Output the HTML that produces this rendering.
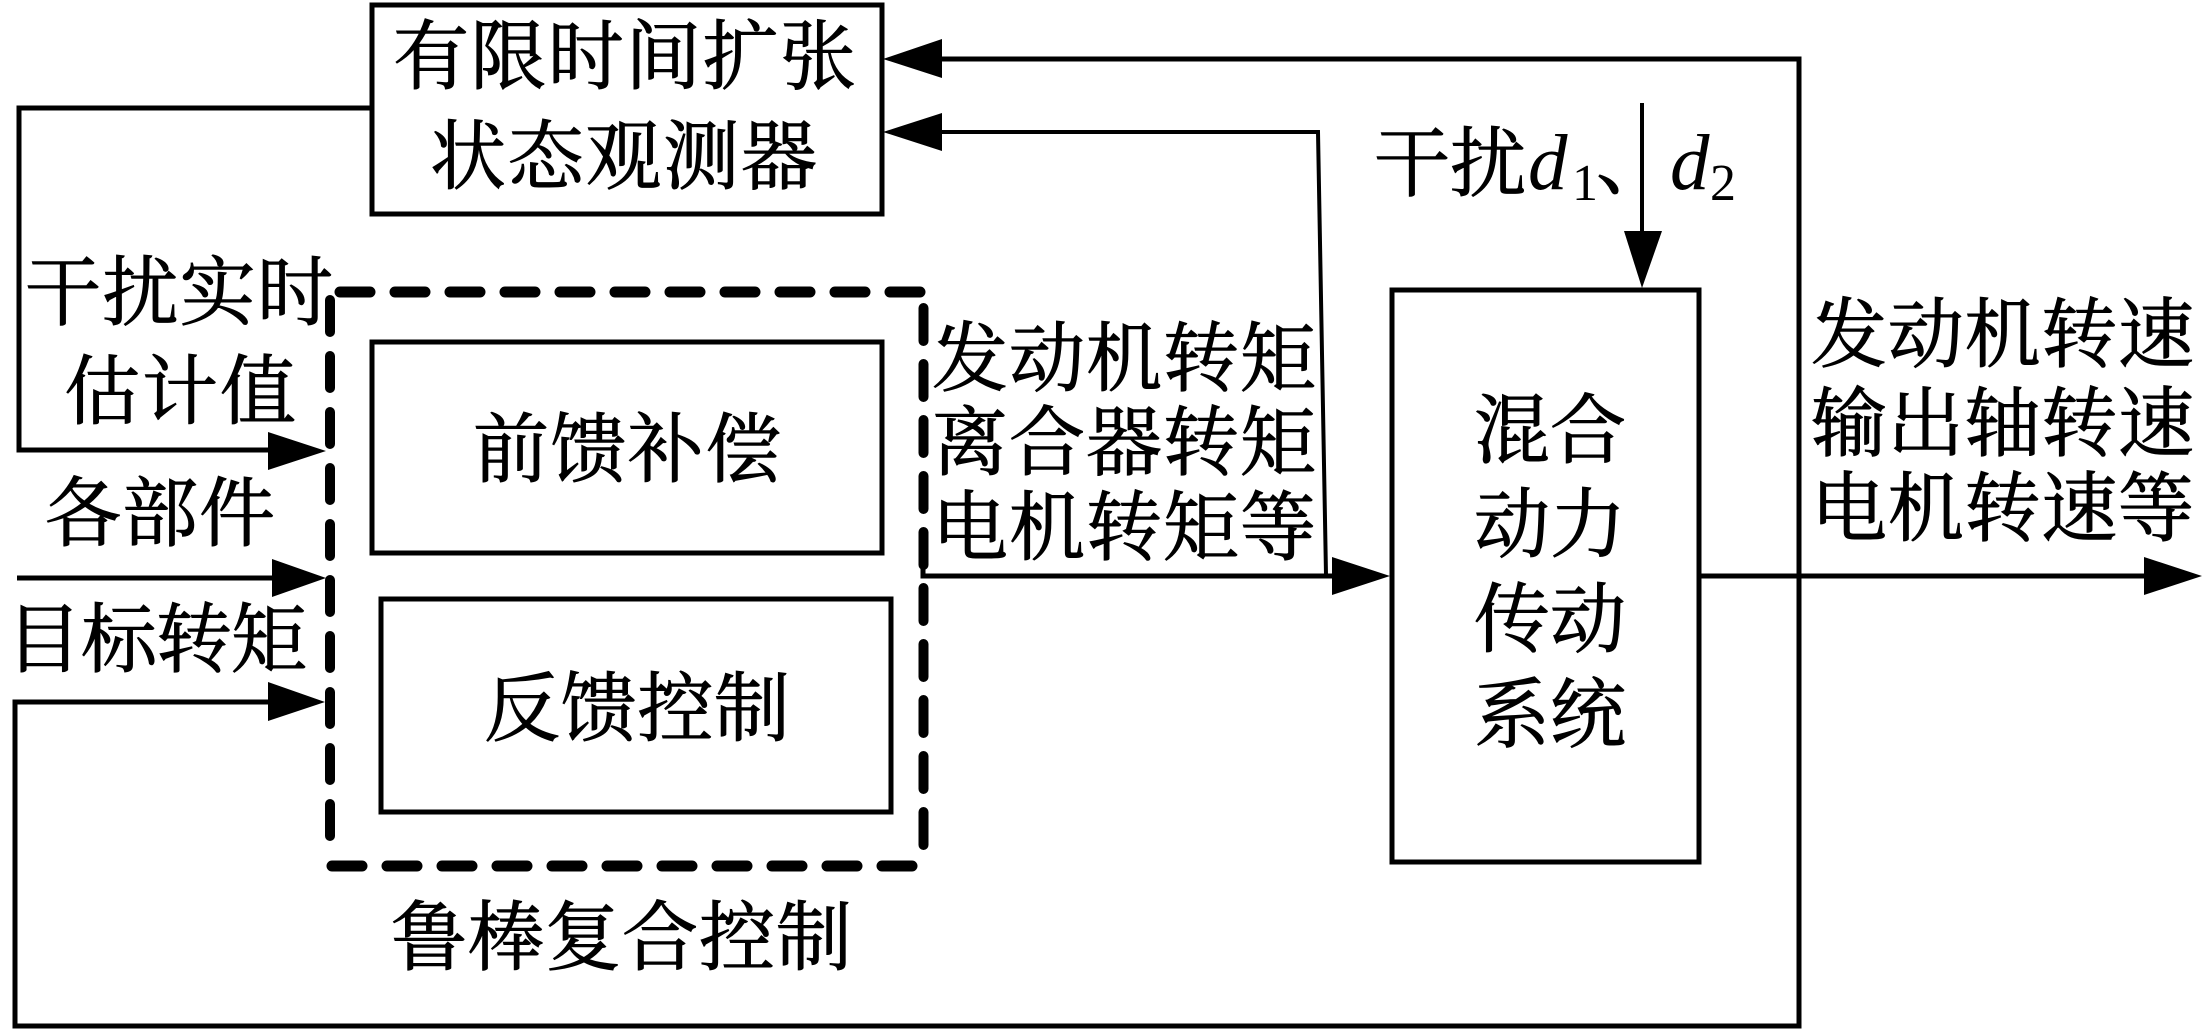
<!DOCTYPE html>
<html><head><meta charset="utf-8"><style>html,body{margin:0;padding:0;background:#fff}svg{display:block}
text{font-family:"Liberation Serif","Noto Serif CJK SC",serif;fill:#000}
.c{font-size:76px;stroke:#000;stroke-width:1px}
.i{font-style:italic;font-size:79px}.s{font-size:52px}</style></head><body>
<svg width="2204" height="1029" viewBox="0 0 2204 1029" xmlns="http://www.w3.org/2000/svg">
<rect width="2204" height="1029" fill="#fff"/>
<g fill="none" stroke="#000" stroke-width="5">
<rect x="372" y="5" width="510" height="209"/>
<rect x="372" y="342" width="510" height="211"/>
<rect x="381" y="599" width="510" height="213"/>
<rect x="1392" y="290" width="307" height="572"/>
<path d="M372 108H19V450H275"/>
<path d="M17 578H275"/>
<path d="M280 702H15V1026H1799V59H935"/>
<path d="M935 132H1318L1326 575" stroke-width="4"/>
<path d="M923 560V576H1340"/>
<path d="M1699 576H2150"/>
<path d="M1642 103V240" stroke-width="4"/>
</g>
<g fill="none" stroke="#000" stroke-linecap="round">
<path d="M340 292H922" stroke-dasharray="30 25" stroke-width="11"/>
<path d="M330 300V849" stroke-dasharray="32 24" stroke-width="10"/>
<path d="M332 866H916" stroke-dasharray="30 25" stroke-width="11"/>
<path d="M923.5 308V857" stroke-dasharray="33 23" stroke-width="10"/>
</g>
<g fill="#000">
<path d="M326 451L268 432V470Z"/>
<path d="M326 578L272 559V597Z"/>
<path d="M325 702L268 682V721Z"/>
<path d="M883 59L942 39V78Z"/>
<path d="M883 132L942 113V151Z"/>
<path d="M1390 576L1332 557V595Z"/>
<path d="M2202 576L2144 557V595Z"/>
<path d="M1642 288L1624 231H1662Z"/>
</g>
<g class="t">
<text class="c" x="393" y="83" textLength="463">有限时间扩张</text>
<text class="c" x="430" y="183" textLength="387">状态观测器</text>
<text class="c" x="25" y="319" textLength="308">干扰实时</text>
<text class="c" x="64" y="418" textLength="232">估计值</text>
<text class="c" x="473" y="476" textLength="308">前馈补偿</text>
<text class="c" x="45" y="540" textLength="230">各部件</text>
<text class="c" x="6" y="666" textLength="301">目标转矩</text>
<text class="c" x="484" y="735" textLength="306">反馈控制</text>
<text class="c" x="391" y="964" textLength="461">鲁棒复合控制</text>
<text class="c" x="932" y="385" textLength="384">发动机转矩</text>
<text class="c" x="932" y="469" textLength="384">离合器转矩</text>
<text class="c" x="932" y="554" textLength="384">电机转矩等</text>
<text class="c" x="1374" y="190" textLength="152">干扰</text>
<text class="i" x="1528" y="189">d</text><text class="s" x="1572" y="200">1</text>
<text class="c" x="1596" y="188">、</text>
<text class="i" x="1670" y="189">d</text><text class="s" x="1710" y="200">2</text>
<text class="c" x="1474" y="457" textLength="152">混合</text>
<text class="c" x="1474" y="551" textLength="152">动力</text>
<text class="c" x="1474" y="646" textLength="152">传动</text>
<text class="c" x="1474" y="741" textLength="152">系统</text>
<text class="c" x="1811" y="361" textLength="383">发动机转速</text>
<text class="c" x="1811" y="450" textLength="383">输出轴转速</text>
<text class="c" x="1811" y="535" textLength="383">电机转速等</text>
</g>
</svg></body></html>
